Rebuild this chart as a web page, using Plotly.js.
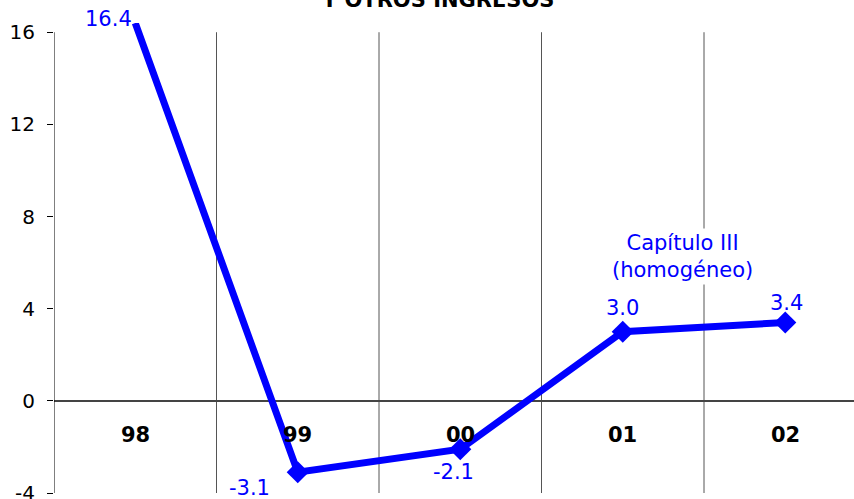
<!DOCTYPE html>
<html>
<head>
<meta charset="utf-8">
<script src="https://cdn.plot.ly/plotly-3.0.1.min.js"></script>
<style>
html,body{margin:0;padding:0;background:#fff;}
#chart{width:854px;height:499px;}
</style>
</head>
<body>
<div id="chart"></div>
<script>
// ---- data ----
const categories = ["98", "99", "00", "01", "02"];
const values = [16.4, -3.1, -2.1, 3.0, 3.4];
const valueLabels = ["16.4", "-3.1", "-2.1", "3.0", "3.4"];
const yTicks = [-4, 0, 4, 8, 12, 16];
const titleText = "Y OTROS INGRESOS";
const noteText = "Capítulo III<br>(homogéneo)";

// ---- layout config ----
const font = "DejaVu Sans, Verdana, sans-serif";
const blue = "#0000ff";
const yMin = -4, yMax = 16.4, yAxisTop = 16;
const labelOffsets = [[-27, -4], [-48, 16], [-7, 23], [0, -24], [1, -20]];
const xIdx = categories.map((c, i) => i);

const trace = {
  x: xIdx, y: values, type: "scatter", mode: "lines+markers",
  line: {color: blue, width: 7},
  marker: {symbol: "diamond", color: blue, opacity: 1, line: {width: 0},
           size: values.map(v => v >= yMax ? 0 : 17)}, // top point clipped in original
  hoverinfo: "none", cliponaxis: true
};

const annotations = [];
values.forEach((v, i) => {
  annotations.push({x: xIdx[i], y: v, xref: "x", yref: "y", text: valueLabels[i],
    showarrow: true, arrowcolor: "rgba(0,0,0,0)", ax: labelOffsets[i][0], ay: labelOffsets[i][1],
    font: {family: font, size: 21, color: blue}, xanchor: "center", yanchor: "middle"});
});
categories.forEach((c, i) => {
  annotations.push({x: xIdx[i], y: -1.5, xref: "x", yref: "y", text: "<b>" + c + "</b>",
    showarrow: false, font: {family: font, size: 21, color: "#000"}, xanchor: "center", yanchor: "middle"});
});
annotations.push({x: 3.37, y: 6.25, xref: "x", yref: "y", text: noteText, showarrow: false,
  font: {family: font, size: 21, color: blue}, bgcolor: "#fff", borderpad: 2, align: "center"});
annotations.push({x: 0.479, y: 1.049, xref: "paper", yref: "paper", text: "<b>" + titleText + "</b>",
  showarrow: false, font: {family: font, size: 21, color: "#000"}, yanchor: "middle"});

const shapes = [];
for (let i = 0; i < categories.length - 1; i++) {
  shapes.push({type: "line", xref: "x", yref: "y", x0: i + 0.5, x1: i + 0.5, y0: yMin, y1: yAxisTop,
    line: {color: "#555", width: 1}, layer: "below"});
}
shapes.push({type: "line", xref: "x", yref: "y", x0: -0.5, x1: -0.5, y0: yMin, y1: yAxisTop,
  line: {color: "#000", width: 1}});

const layout = {
  width: 854, height: 499,
  margin: {l: 54, r: 0, t: 23, b: 6, pad: 0},
  paper_bgcolor: "#fff", plot_bgcolor: "#fff",
  showlegend: false,
  xaxis: {range: [-0.5, 4.423], showgrid: false, zeroline: false, showline: false,
          showticklabels: false, ticks: "", fixedrange: true},
  yaxis: {range: [yMin, yMax], tickvals: yTicks, ticktext: yTicks.map(String),
          showgrid: false, zeroline: true, zerolinecolor: "#444", zerolinewidth: 1.5,
          showline: false, ticks: "outside", ticklen: 6, tickcolor: "#000", tickwidth: 1,
          ticklabelstandoff: 8, ticklabeloverflow: "allow",
          tickfont: {family: font, size: 20, color: "#000"}, fixedrange: true},
  annotations: annotations,
  shapes: shapes
};

Plotly.newPlot("chart", [trace], layout, {displayModeBar: false, staticPlot: true});
</script>
</body>
</html>
